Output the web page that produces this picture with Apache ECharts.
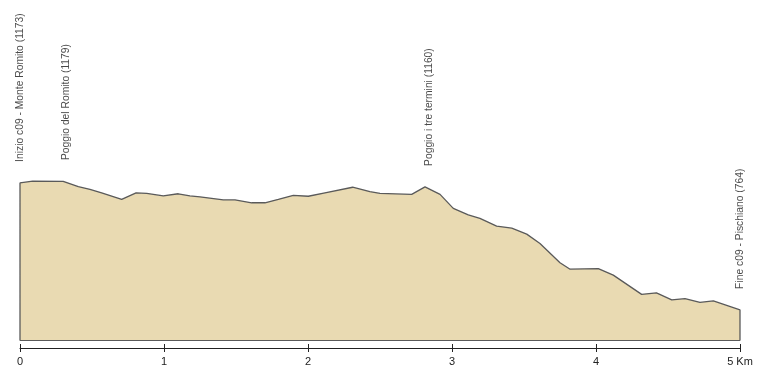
<!DOCTYPE html>
<html><head><meta charset="utf-8">
<script src="https://cdn.jsdelivr.net/npm/echarts@6/dist/echarts.min.js"></script>
<style>html,body{margin:0;padding:0;background:#fff}#c{width:763px;height:381px}</style>
</head><body><div id="c"></div>
<script>
// distances (km) and elevations (m)
const distKm = [0, 0.088, 0.30, 0.405, 0.486, 0.567, 0.706, 0.806, 0.88, 0.995, 1.099, 1.18, 1.25, 1.412, 1.493, 1.609, 1.701, 1.794, 1.898, 2.002, 2.118, 2.31, 2.43, 2.5, 2.72, 2.8125, 2.917, 3.009, 3.113, 3.194, 3.31, 3.415, 3.519, 3.611, 3.75, 3.82, 4.016, 4.12, 4.317, 4.42, 4.526, 4.618, 4.722, 4.815, 5.0];
const elevM  = [1173, 1179, 1178, 1161, 1152, 1141, 1120, 1141, 1139, 1131, 1138, 1131, 1128, 1118, 1118, 1109, 1109, 1120, 1133, 1130, 1141, 1159, 1145, 1139, 1136, 1160, 1136, 1091, 1070, 1059, 1034, 1027, 1008, 978, 916, 895, 897, 876, 814, 819, 796, 800, 788, 793, 764];
const placeNames = ["Inizio c09 - Monte Romito (1173)", "Poggio del Romito (1179)", "Poggio i tre termini (1160)", "Fine c09 - Pischiano (764)"];
const placeKm = [0, 0.32, 2.84, 5];
const placeElev = [1173, 1179, 1160, 764];
const xTicks = [0, 1, 2, 3, 4, 5];
const baseElev = 667;
const topElev = 1440;

const FONT = "'Liberation Sans Narrow','Liberation Sans',sans-serif";
const profile = [[0, baseElev]].concat(distKm.map((d, i) => [d, elevM[i]])).concat([[5, baseElev]]);
const places = placeKm.map((d, i) => ({value: [d, placeElev[i]], name: placeNames[i]}));

const chart = echarts.init(document.getElementById('c'), null, {renderer: 'canvas'});
chart.setOption({
  animation: false,
  grid: {left: 20, right: 23, top: 100, bottom: 41, containLabel: false, outerBoundsMode: 'none'},
  xAxis: [
    {type: 'value', min: 0, max: 5, position: 'bottom',
     axisLine: {show: true, onZero: false, lineStyle: {color: '#5a5a5a', width: 1}},
     axisTick: {show: false}, axisLabel: {show: false}, splitLine: {show: false}},
    {type: 'value', min: 0, max: 5, interval: 1, position: 'bottom', offset: 8,
     axisLine: {show: true, onZero: false, lineStyle: {color: '#222', width: 1}},
     axisTick: {show: true, length: 4, lineStyle: {color: '#222'}},
     axisLabel: {show: true, margin: 8, color: '#222', fontFamily: FONT, fontSize: 11,
       formatter: v => (v === 5 ? '5 Km' : String(v))},
     splitLine: {show: false}},
    {type: 'value', min: 0, max: 5, interval: 1, position: 'bottom', offset: 8,
     axisLine: {show: false},
     axisTick: {show: true, inside: true, length: 4, lineStyle: {color: '#222'}},
     axisLabel: {show: false}, splitLine: {show: false}}
  ],
  yAxis: {type: 'value', min: baseElev, max: topElev, show: false, splitLine: {show: false}},
  series: [
    {type: 'line', xAxisIndex: 0, data: profile, symbol: 'none', smooth: false,
     lineStyle: {color: '#5a5a5a', width: 1.3},
     areaStyle: {color: '#e9dab2', opacity: 1, origin: 'start'}},
    {type: 'scatter', xAxisIndex: 0, data: places, symbolSize: 0,
     label: {show: true, position: 'top', distance: 21, rotate: 90, align: 'left', verticalAlign: 'middle',
       color: '#1a1a1a', fontFamily: FONT, fontSize: 10.3, formatter: p => p.name}}
  ]
});
</script></body></html>
